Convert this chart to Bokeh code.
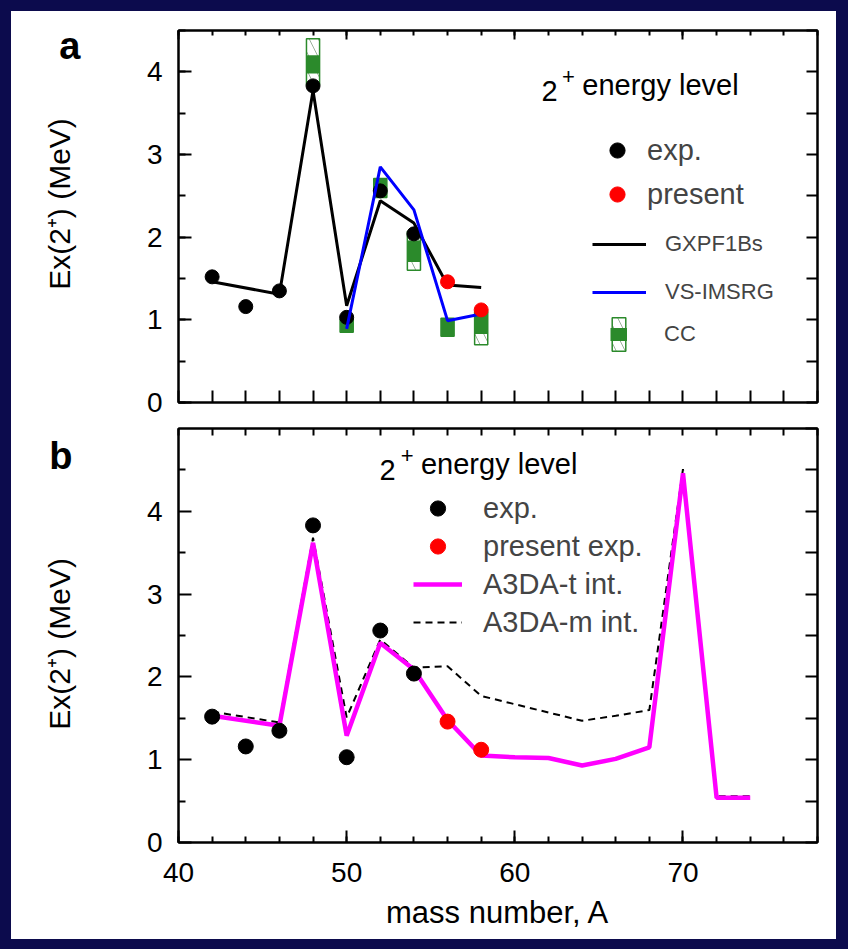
import math
from bokeh.plotting import figure
from bokeh.models import (Range1d, LinearAxis, SingleIntervalTicker, FixedTicker,
                          Legend, LegendItem, Label, Div, CustomJSTickFormatter)
from bokeh.layouts import column, row
from bokeh.embed import file_html
from bokeh.resources import INLINE

# ---------------- data ----------------
exp_A = [42, 44, 46, 48, 50, 52, 54]
exp_E = [1.52, 1.16, 1.35, 3.83, 1.03, 2.56, 2.04]
present_A = [56, 58]
present_E = [1.46, 1.12]

gx_A = [42, 46, 48, 50, 52, 54, 56, 58]
gx_E = [1.46, 1.31, 3.77, 1.17, 2.44, 2.17, 1.42, 1.39]

vs_A = [50, 52, 54, 56, 58]
vs_E = [0.89, 2.85, 2.33, 0.99, 1.07]

cc_A = [48, 50, 52, 54, 56, 58]
cc_lo = [3.84, 0.85, 2.48, 1.60, 0.80, 0.70]
cc_hi = [4.40, 1.01, 2.71, 2.07, 1.02, 1.10]
cc_core_lo = [3.98, 0.85, 2.48, 1.70, 0.80, 0.83]
cc_core_hi = [4.20, 1.01, 2.71, 1.96, 1.02, 1.10]

a3t_A = [42, 46, 48, 50, 52, 54, 56, 58, 60, 62, 64, 66, 68, 70, 72, 74]
a3t_E = [1.53, 1.41, 3.62, 1.29, 2.41, 2.09, 1.48, 1.05, 1.03, 1.02, 0.93, 1.01, 1.15, 4.46, 0.54, 0.54]
a3m_A = [42, 46, 48, 50, 52, 54, 56, 58, 60, 62, 64, 66, 68, 70, 72, 74]
a3m_E = [1.58, 1.45, 3.68, 1.51, 2.45, 2.11, 2.13, 1.77, 1.67, 1.57, 1.47, 1.53, 1.60, 4.51, 0.56, 0.56]

Y_LABEL = "Ex(2\u207a) (MeV)"
X_LABEL = "mass number, A"

# ---------------- style ----------------
FONT = "Liberation Sans"
NAVY = "#0c0b4d"
GREEN = "#2b8a2b"
TICK_FS = "28px"
NBSP = "\u00a0"


def style_axis(ax, major_in, minor_in, labels=False, standoff=16):
    ax.axis_line_width = 2
    ax.axis_line_color = "black"
    ax.major_tick_in = major_in
    ax.major_tick_out = 0
    ax.minor_tick_in = minor_in
    ax.minor_tick_out = 0
    ax.major_tick_line_width = 2
    ax.minor_tick_line_width = 2
    ax.major_tick_line_color = "black"
    ax.minor_tick_line_color = "black" if minor_in > 0 else None
    if labels:
        ax.major_label_text_font = FONT
        ax.major_label_text_font_size = TICK_FS
        ax.major_label_text_color = "black"
        ax.major_label_standoff = standoff
    else:
        # tick marks only: no label text
        ax.formatter = CustomJSTickFormatter(code="return '';")
        ax.major_label_text_font_size = "1px"
        ax.major_label_standoff = 0


def set_ylabel(ax, text):
    ax.axis_label = text
    ax.axis_label_text_font = FONT
    ax.axis_label_text_font_size = "30px"
    ax.axis_label_text_font_style = "normal"
    ax.axis_label_text_color = "black"
    ax.axis_label_standoff = 68


def panel_letter(p, letter, at, standoff):
    ax = LinearAxis(ticker=FixedTicker(ticks=[at]),
                    formatter=CustomJSTickFormatter(code="return '%s';" % letter))
    ax.axis_line_color = None
    ax.major_tick_line_color = None
    ax.minor_tick_line_color = None
    ax.major_tick_in = 0
    ax.major_tick_out = 0
    ax.minor_tick_in = 0
    ax.minor_tick_out = 0
    ax.major_label_standoff = standoff
    ax.major_label_text_font = FONT
    ax.major_label_text_font_size = "38px"
    ax.major_label_text_font_style = "bold"
    ax.major_label_text_color = "black"
    p.add_layout(ax, "left")


def make_fig(h, ymax, top, bottom):
    p = figure(width=825, height=h, x_range=Range1d(40, 78), y_range=Range1d(0, ymax),
               output_backend="svg", toolbar_location=None,
               min_border_left=167, min_border_right=19,
               min_border_top=top, min_border_bottom=bottom)
    p.xgrid.visible = False
    p.ygrid.visible = False
    p.outline_line_color = "black"
    p.outline_line_width = 2
    p.background_fill_color = "white"
    p.border_fill_color = "white"
    return p


def add_label(p, x, y, text, size, **kw):
    p.add_layout(Label(x=x, y=y, text=text, text_font=FONT, text_font_size=size,
                       text_color="black", **kw))


# ---------------- panel a ----------------
pa = make_fig(410, 4.5, 19, 19)
style_axis(pa.yaxis[0], 13, 7, labels=True, standoff=16)
pa.yaxis[0].ticker = SingleIntervalTicker(interval=1, num_minor_ticks=2)
set_ylabel(pa.yaxis[0], NBSP * 3 + Y_LABEL)
panel_letter(pa, "a", 4.31, -41)
style_axis(pa.xaxis[0], 12, 0)
pa.xaxis[0].ticker = SingleIntervalTicker(interval=2, num_minor_ticks=0)
ra = LinearAxis(ticker=SingleIntervalTicker(interval=0.5, num_minor_ticks=0))
style_axis(ra, 11, 0)
pa.add_layout(ra, "right")
ta = LinearAxis(ticker=SingleIntervalTicker(interval=10, num_minor_ticks=5))
style_axis(ta, 9, 5)
pa.add_layout(ta, "above")

cc_outer = pa.vbar(x=cc_A, width=0.78, bottom=cc_lo, top=cc_hi, fill_color="white",
                   fill_alpha=0.0, line_color=GREEN, line_width=1.5,
                   hatch_pattern="\\", hatch_scale=18, hatch_color="#6f8f6f",
                   hatch_weight=1, hatch_alpha=0.7)
cc_core = pa.segment(x0=cc_A, y0=cc_core_lo, x1=cc_A, y1=cc_core_hi, line_color=GREEN,
                     line_width=13, line_cap="butt")
gx_r = pa.line(gx_A, gx_E, line_color="black", line_width=3)
exp_r = pa.scatter(exp_A, exp_E, size=14, fill_color="black", line_color="black")
vs_r = pa.line(vs_A, vs_E, line_color="#0000ff", line_width=3)
pres_r = pa.scatter(present_A, present_E, size=14, fill_color="#ff0000", line_color="#ff0000")

leg1 = Legend(items=[LegendItem(label="exp.", renderers=[exp_r]),
                     LegendItem(label="present", renderers=[pres_r])],
              location=(420, 189), glyph_width=38, glyph_height=38, spacing=6,
              label_standoff=11, padding=0, margin=0, border_line_color=None,
              background_fill_alpha=0, label_text_font=FONT, label_text_font_size="29px")
leg2 = Legend(items=[LegendItem(label="GXPF1Bs", renderers=[gx_r]),
                     LegendItem(label="VS-IMSRG", renderers=[vs_r])],
              location=(414, 95), glyph_width=54, glyph_height=30, spacing=18,
              label_standoff=19, padding=0, margin=0, border_line_color=None,
              background_fill_alpha=0, label_text_font=FONT, label_text_font_size="22px")
leg3 = Legend(items=[LegendItem(label="CC", renderers=[cc_outer, cc_core])],
              location=(432, 47), glyph_width=17, glyph_height=42, spacing=0,
              label_standoff=37, padding=0, margin=0, border_line_color=None,
              background_fill_alpha=0, label_text_font=FONT, label_text_font_size="22px")
for lg in (leg1, leg2, leg3):
    pa.add_layout(lg)

add_label(pa, 61.59, 3.653, "2", "29px")
add_label(pa, 62.81, 3.856, "+", "22px")
add_label(pa, 64.01, 3.653, "energy level", "29px")

# ---------------- panel b ----------------
pb = make_fig(518, 5, 7, 97)
style_axis(pb.yaxis[0], 13, 7, labels=True, standoff=16)
pb.yaxis[0].ticker = FixedTicker(ticks=[0, 1, 2, 3, 4],
                                 minor_ticks=[0.5, 1.5, 2.5, 3.5, 4.5])
set_ylabel(pb.yaxis[0], Y_LABEL + NBSP * 2)
panel_letter(pb, "b", 4.665, -33)
style_axis(pb.xaxis[0], 12, 6, labels=True, standoff=20)
pb.xaxis[0].ticker = SingleIntervalTicker(interval=10, num_minor_ticks=5)
pb.xaxis[0].axis_label = X_LABEL
pb.xaxis[0].axis_label_text_font = FONT
pb.xaxis[0].axis_label_text_font_size = "31px"
pb.xaxis[0].axis_label_text_font_style = "normal"
pb.xaxis[0].axis_label_text_color = "black"
pb.xaxis[0].axis_label_standoff = 10
rb = LinearAxis(ticker=SingleIntervalTicker(interval=0.5, num_minor_ticks=0))
style_axis(rb, 12, 0)
pb.add_layout(rb, "right")
tb = LinearAxis(ticker=SingleIntervalTicker(interval=2, num_minor_ticks=0))
style_axis(tb, 7, 0)
pb.add_layout(tb, "above")

m_r = pb.line(a3m_A, a3m_E, line_color="black", line_width=2, line_dash="7 5")
t_r = pb.line(a3t_A, a3t_E, line_color="#ff00ff", line_width=4.5)
exp_rb = pb.scatter(exp_A, exp_E, size=15, fill_color="black", line_color="black")
pres_rb = pb.scatter(present_A, present_E, size=15, fill_color="#ff0000", line_color="#ff0000")

legb = Legend(items=[LegendItem(label="exp.", renderers=[exp_rb]),
                     LegendItem(label="present exp.", renderers=[pres_rb]),
                     LegendItem(label="A3DA-t int.", renderers=[t_r]),
                     LegendItem(label="A3DA-m int.", renderers=[m_r])],
              location=(235, 201), glyph_width=49, glyph_height=38, spacing=0,
              label_standoff=21, padding=0, margin=0, border_line_color=None,
              background_fill_alpha=0, label_text_font=FONT, label_text_font_size="29px")
pb.add_layout(legb)

add_label(pb, 51.95, 4.372, "2", "29px")
add_label(pb, 53.22, 4.585, "+", "22px")
add_label(pb, 54.42, 4.372, "energy level", "29px")

# ---------------- frame / layout ----------------
def navy(w, h):
    return Div(text="", width=w, height=h, margin=0,
               styles={"background-color": NAVY})

layout = column(navy(848, 11),
                row(navy(11, 928), column(pa, pb, spacing=0), navy(12, 928), spacing=0),
                navy(848, 10), spacing=0)

open("out.html", "w").write(file_html(layout, INLINE))
